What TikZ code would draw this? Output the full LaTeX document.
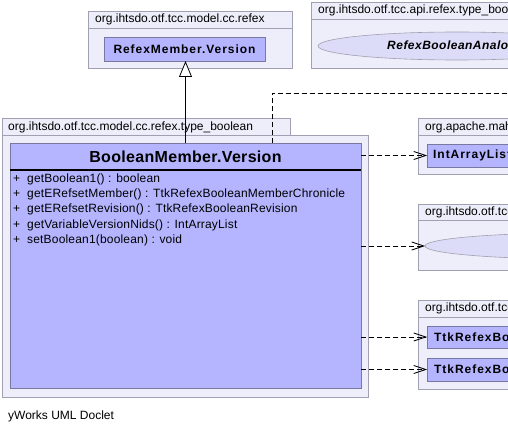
\documentclass[tikz,border=0pt]{standalone}
\usepackage{fontspec}
\setmainfont{Liberation Sans}
\usetikzlibrary{arrows.meta,shapes.geometric}
\definecolor{pkgfill}{RGB}{238,238,250}
\definecolor{pkgdraw}{RGB}{160,160,178}
\definecolor{classfill}{RGB}{180,180,255}
\definecolor{classdraw}{RGB}{120,120,160}
\definecolor{ellfill}{RGB}{220,220,248}
\tikzset{
  box/.style={rectangle, anchor=north west, inner sep=0pt, outer sep=0pt},
  pkg/.style={box, draw=pkgdraw, fill=pkgfill, line width=0.8pt},
  cls/.style={box, draw=classdraw, fill=classfill, line width=0.8pt},
  ell/.style={ellipse, draw=pkgdraw, fill=ellfill, line width=0.6pt, inner sep=0pt, outer sep=0pt},
  pkglabel/.style={anchor=west, inner sep=0pt, font=\fontsize{12}{14}\selectfont, text=black},
  clsname/.style={inner sep=0pt, font=\fontsize{12}{14}\selectfont\bfseries\addfontfeature{LetterSpace=8}},
  method/.style={anchor=west, inner sep=0pt, font=\fontsize{12}{14}\selectfont\addfontfeature{LetterSpace=1.5}},
  dep/.style={draw=black, line width=0.8pt, dash pattern=on 5pt off 3pt, -{Straight Barb[length=12pt,width=8pt,line width=0.8pt]}},
  depline/.style={draw=black, line width=0.8pt, dash pattern=on 5pt off 3pt},
  inh/.style={draw=black, line width=0.8pt, -{Triangle[open, length=16pt, width=13pt, line width=0.8pt, fill=white]}},
}
\begin{document}
\begin{tikzpicture}[x=1pt,y=-1pt]
\useasboundingbox (0,0) rectangle (508,435);
\clip (0,0) rectangle (508,435);
\fill[white] (0,0) rectangle (508,435);

% package refex
\node[pkg, minimum width=204pt, minimum height=17pt] (pkgAtab) at (88,11) {};
\node[pkg, minimum width=204pt, minimum height=40pt] (pkgA) at (88,28) {};
\node[pkglabel] (pkgAlab) at (95,19.5) {org.ihtsdo.otf.tcc.model.cc.refex};
\node[cls, minimum width=161pt, minimum height=24pt] (refexc) at (104,37) {};
\node[clsname] (refexname) at (refexc.center) {RefexMember.Version};

% package api type_boolean
\node[pkg, minimum width=260pt, minimum height=17pt] (pkgBtab) at (311,2) {};
\node[pkg, minimum width=260pt, minimum height=49pt] (pkgB) at (311,19) {};
\node[pkglabel] (pkgBlab) at (318,10.5) {org.ihtsdo.otf.tcc.api.refex.type\_boolean};
\node[ell, minimum width=278pt, minimum height=28pt, anchor=west] (analog) at (318,46) {};
\node[clsname, font=\fontsize{12}{14}\selectfont\bfseries\itshape\addfontfeature{LetterSpace=4}, anchor=west] (analogname) at (387,46) {RefexBooleanAnalogBI};

% main package
\node[pkg, minimum width=288pt, minimum height=17pt] (pkgMtab) at (2,118) {};
\node[pkg, minimum width=366pt, minimum height=262pt] (pkgM) at (2,135) {};
\node[pkglabel] (pkgMlab) at (8,127) {org.ihtsdo.otf.tcc.model.cc.refex.type\_boolean};
\node[cls, minimum width=351pt, minimum height=245pt] (mainc) at (10,143.5) {};
\node[clsname, font=\fontsize{16}{18}\selectfont\bfseries\addfontfeature{LetterSpace=2}] (mainname) at (185.5,157) {BooleanMember.Version};
\draw[line width=2.2pt] (mainc.west |- 0,170) -- (mainc.east |- 0,170);
\node[method] (m1) at (13,179.5) {\makebox[14pt][l]{+}getBoolean1() : boolean};
\node[method] (m2) at (13,194.5) {\makebox[14pt][l]{+}getERefsetMember() : TtkRefexBooleanMemberChronicle};
\node[method] (m3) at (13,209.5) {\makebox[14pt][l]{+}getERefsetRevision() : TtkRefexBooleanRevision};
\node[method] (m4) at (13,225) {\makebox[14pt][l]{+}getVariableVersionNids() : IntArrayList};
\node[method] (m5) at (13,240.5) {\makebox[14pt][l]{+}setBoolean1(boolean) : void};

% mahout package
\node[pkg, minimum width=200pt, minimum height=17pt] (pkgCtab) at (418,118) {};
\node[pkg, minimum width=200pt, minimum height=39pt] (pkgC) at (418,135) {};
\node[pkglabel] (pkgClab) at (425,127) {org.apache.mahout.math.list};
\node[cls, minimum width=150pt, minimum height=23pt] (intc) at (427,144) {};
\node[clsname, anchor=west] (intname) at (433,155.5) {IntArrayList};

% middle right package
\node[pkg, minimum width=200pt, minimum height=16pt] (pkgDtab) at (418,204) {};
\node[pkg, minimum width=200pt, minimum height=50pt] (pkgD) at (418,220) {};
\node[pkglabel] (pkgDlab) at (425,212) {org.ihtsdo.otf.tcc.api.refex};
\node[ell, minimum width=300pt, minimum height=26pt, anchor=west] (elld) at (425,246) {};

% dto package
\node[pkg, minimum width=260pt, minimum height=17pt] (pkgEtab) at (418,300) {};
\node[pkg, minimum width=260pt, minimum height=72pt] (pkgE) at (418,317) {};
\node[pkglabel] (pkgElab) at (425,308.5) {org.ihtsdo.otf.tcc.dto.component.refex.type\_boolean};
\node[cls, minimum width=240pt, minimum height=22pt] (ttk1) at (427,326) {};
\node[clsname, anchor=west] (ttk1name) at (434,337) {TtkRefexBooleanMemberChronicle};
\node[cls, minimum width=190pt, minimum height=23pt] (ttk2) at (427,358) {};
\node[clsname, anchor=west] (ttk2name) at (434,369.5) {TtkRefexBooleanRevision};

% footer
\node[pkglabel] (footer) at (8,416) {yWorks UML Doclet};

% connectors
\coordinate (offright) at (520,93);
\draw[inh] (mainc.north) -- (mainc.north |- refexc.south);
\draw[depline] (mainc.north -| 272,0) |- (offright);
\draw[dep] (mainc.east |- intc.west) -- (intc.west);
\draw[dep] (mainc.east |- elld.west) -- (elld.west);
\draw[dep] (mainc.east |- ttk1.west) -- (ttk1.west);
\draw[dep] (mainc.east |- ttk2.west) -- (ttk2.west);
\end{tikzpicture}
\end{document}
